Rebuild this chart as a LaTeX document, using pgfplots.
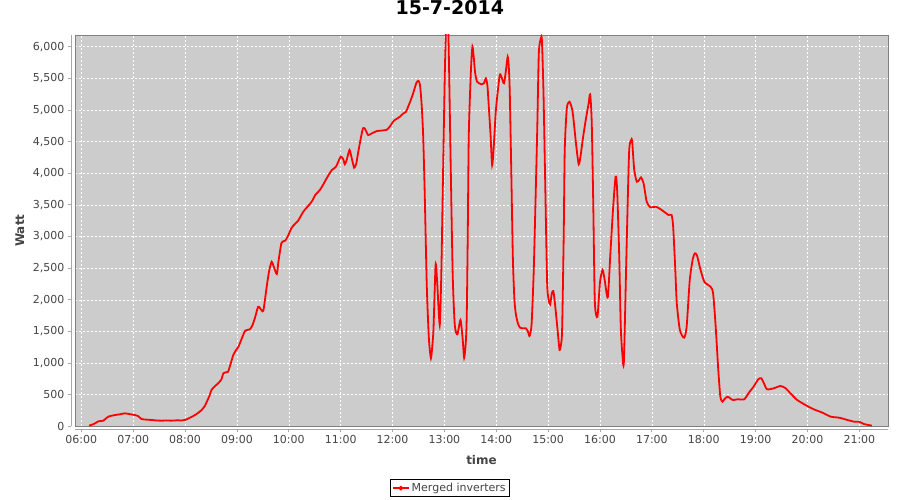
\documentclass[border=0pt]{standalone}
\usepackage{pgfplots}
\pgfplotsset{compat=1.18}
\usepackage{fontspec}
\setmainfont{DejaVu Sans}
\definecolor{plotbg}{HTML}{CCCCCC}
\definecolor{frameC}{HTML}{808080}
\definecolor{axlnC}{HTML}{A8A8A8}
\definecolor{txtC}{HTML}{444444}
\definecolor{lineC}{HTML}{FF0000}

\begin{document}
\begin{tikzpicture}
\path[use as bounding box] (0,0) rectangle (900bp,500bp);
\begin{axis}[
  name=ax,
  at={(75bp,73.7bp)}, anchor=south west,
  scale only axis, width=813bp, height=391.3bp,
  xmin=5.8785, xmax=21.552, ymin=0, ymax=6185,
  axis background/.style={fill=plotbg},
  axis line style={draw=frameC, line width=0.8bp},
  xtick={6,...,21},
  xticklabels={06:00,07:00,08:00,09:00,10:00,11:00,12:00,13:00,14:00,
               15:00,16:00,17:00,18:00,19:00,20:00,21:00},
  ytick={0,500,...,6000},
  scaled ticks=false,
  /pgf/number format/1000 sep={,},
  /pgf/number format/assume math mode=true,
  tick pos=left, tick align=outside, major tick length=3bp,
  xtick style={draw=axlnC, line width=0.8bp, yshift=-3bp},
  ytick style={draw=axlnC, line width=0.8bp, xshift=-4bp},
  ticklabel style={font=\fontsize{11bp}{13bp}\selectfont, text=txtC},
  yticklabel style={xshift=-4bp},
  xticklabel style={yshift=-3bp},
  grid=major,
  grid style={draw=white, line width=0.5bp, dash pattern=on 2bp off 2bp},
  xlabel={time}, ylabel={Watt},
  xlabel style={at={(axis description cs:0.5,-0.086)}, anchor=center,
                font=\bfseries\fontsize{12bp}{14bp}\selectfont, text=txtC},
  ylabel style={at={(axis description cs:-0.0677,0.5)}, anchor=center,
                font=\bfseries\fontsize{12bp}{14bp}\selectfont, text=txtC},
  title={15-7-2014},
  title style={at={(axis description cs:0.461,1.0537)}, anchor=center,
               font=\bfseries\fontsize{19bp}{21bp}\selectfont},
  legend style={at={(axis description cs:0.461,-0.158)}, anchor=center,
                draw=black, line width=0.8bp, inner sep=1.5bp,
                font=\fontsize{11bp}{13bp}\selectfont, text=txtC},
  legend image code/.code={%
    \draw[lineC,line width=1.8bp] (0bp,0bp) -- (16bp,0bp);
    \fill[lineC] (8bp,0bp) circle (1.3bp);},
]
\addplot[lineC, line width=1.8bp, smooth, tension=0.4, no marks] coordinates {
(6.15,10) (6.25,40) (6.33,79) (6.42,88) (6.52,152) (6.65,178) (6.75,190)
(6.84,205) (6.95,190) (7.03,178) (7.10,160) (7.16,115) (7.26,105) (7.36,100)
(7.45,92) (7.55,89) (7.65,92) (7.74,89) (7.85,95) (7.93,92) (8.00,100)
(8.08,130) (8.16,163) (8.25,210) (8.32,258) (8.38,320) (8.42,389) (8.47,480)
(8.51,574) (8.57,630) (8.64,680) (8.70,740) (8.74,838) (8.80,855) (8.83,863)
(8.88,990) (8.93,1127) (8.98,1200) (9.03,1258) (9.10,1400) (9.16,1511)
(9.25,1533) (9.30,1600) (9.35,1720) (9.41,1890) (9.47,1840) (9.51,1827)
(9.57,2181) (9.62,2450) (9.67,2601) (9.72,2500) (9.77,2407) (9.80,2600)
(9.86,2900) (9.93,2933) (9.98,3000) (10.05,3130) (10.12,3200) (10.18,3250)
(10.28,3392) (10.36,3470) (10.45,3560) (10.51,3656) (10.60,3735) (10.67,3830)
(10.73,3920) (10.83,4051) (10.91,4103) (11.00,4261) (11.05,4220) (11.08,4141)
(11.12,4220) (11.17,4367) (11.21,4250) (11.26,4087) (11.30,4150) (11.34,4340)
(11.39,4560) (11.43,4710) (11.47,4700) (11.53,4604) (11.60,4630) (11.70,4667)
(11.80,4675) (11.89,4688) (11.95,4740) (12.02,4825) (12.08,4860) (12.14,4893)
(12.20,4940) (12.26,4972) (12.30,5050) (12.34,5130) (12.40,5270) (12.46,5430)
(12.50,5460) (12.53,5394) (12.56,5100) (12.59,4604) (12.62,3700) (12.66,2233)
(12.70,1400) (12.74,1075) (12.77,1300) (12.79,1549) (12.83,2549) (12.86,2285)
(12.91,1601) (12.94,2400) (12.97,3800) (13.01,5658) (13.04,6450) (13.07,6400)
(13.09,5658) (13.12,4200) (13.16,2391) (13.20,1601) (13.25,1454) (13.31,1680)
(13.35,1400) (13.38,1084) (13.41,1300) (13.43,1707) (13.45,3000) (13.47,4604)
(13.51,5600) (13.54,6000) (13.57,5800) (13.59,5604) (13.63,5446) (13.72,5405)
(13.76,5420) (13.80,5500) (13.83,5380) (13.85,5130) (13.89,4600) (13.92,4130)
(13.95,4400) (13.99,4972) (14.03,5300) (14.07,5563) (14.11,5500) (14.15,5421)
(14.19,5650) (14.22,5841) (14.24,5700) (14.26,5288) (14.29,4000) (14.32,2655)
(14.35,2000) (14.38,1759) (14.42,1620) (14.46,1558) (14.52,1550) (14.57,1549)
(14.61,1500) (14.64,1427) (14.68,1601) (14.72,2400) (14.75,3340) (14.79,4700)
(14.82,5895) (14.86,6132) (14.88,6100) (14.91,5288) (14.94,4000) (14.98,2285)
(15.01,2000) (15.04,1928) (15.07,2100) (15.10,2138) (15.13,1950) (15.16,1707)
(15.19,1450) (15.22,1206) (15.25,1300) (15.27,1549) (15.30,3000) (15.32,4367)
(15.36,5026) (15.41,5130) (15.45,5050) (15.48,4920) (15.54,4446) (15.59,4141)
(15.63,4300) (15.67,4552) (15.73,4868) (15.78,5100) (15.81,5247) (15.84,4814)
(15.87,3500) (15.90,1969) (15.95,1732) (16.00,2285) (16.05,2470) (16.09,2312)
(16.15,2039) (16.20,2734) (16.25,3418) (16.30,3945) (16.33,3735) (16.37,2700)
(16.40,1574) (16.43,1150) (16.46,1021) (16.51,2734) (16.56,4320) (16.60,4525)
(16.62,4500) (16.66,4051) (16.71,3866) (16.76,3900) (16.79,3935) (16.84,3841)
(16.90,3550) (16.97,3461) (17.08,3471) (17.19,3418) (17.32,3340) (17.38,3340)
(17.41,3155) (17.45,2500) (17.48,1944) (17.54,1522) (17.62,1400) (17.67,1574)
(17.73,2312) (17.79,2650) (17.83,2734) (17.87,2700) (17.93,2500) (18.01,2285)
(18.13,2206) (18.18,2102) (18.23,1574) (18.28,890) (18.32,468) (18.36,389)
(18.40,430) (18.46,468) (18.56,416) (18.65,427) (18.78,427) (18.87,531)
(18.96,626) (19.05,743) (19.11,759) (19.16,680) (19.22,585) (19.35,601)
(19.48,637) (19.58,601) (19.67,522) (19.80,416) (19.96,337) (20.12,269)
(20.29,215) (20.45,152) (20.61,136) (20.77,100) (20.90,73) (20.99,73)
(21.09,36) (21.24,10)
};
\addlegendentry{Merged inverters}
\end{axis}
\draw[axlnC, line width=0.8bp] ([xshift=-4bp]ax.south west) -- ([xshift=-4bp]ax.north west);
\draw[axlnC, line width=0.8bp] ([yshift=-3bp]ax.south west) -- ([yshift=-3bp]ax.south east);
\end{tikzpicture}
\end{document}
